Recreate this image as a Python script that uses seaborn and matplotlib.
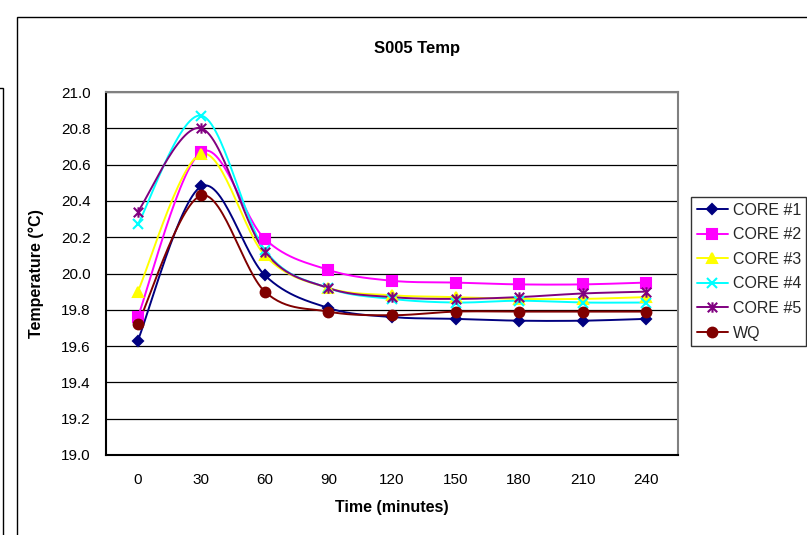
import numpy as np
import pandas as pd
import matplotlib
matplotlib.use("Agg")
import matplotlib.pyplot as plt
import seaborn as sns
from matplotlib.path import Path
from matplotlib.patches import Rectangle
from matplotlib.lines import Line2D

# Sampling times (minutes) and temperatures (°C)
time_labels = ["0", "30", "60", "90", "120", "150", "180", "210", "240"]
core1 = [19.63, 20.48, 19.99, 19.81, 19.76, 19.75, 19.74, 19.74, 19.75]
core2 = [19.76, 20.67, 20.19, 20.02, 19.96, 19.95, 19.94, 19.94, 19.95]
core3 = [19.90, 20.66, 20.10, 19.92, 19.88, 19.87, 19.86, 19.86, 19.87]
core4 = [20.27, 20.87, 20.13, 19.92, 19.86, 19.84, 19.85, 19.84, 19.84]
core5 = [20.34, 20.80, 20.12, 19.92, 19.87, 19.86, 19.87, 19.89, 19.90]
wq = [19.72, 20.43, 19.90, 19.79, 19.77, 19.79, 19.79, 19.79, 19.79]

series_names = ["CORE #1", "CORE #2", "CORE #3", "CORE #4", "CORE #5", "WQ"]
series_values = [core1, core2, core3, core4, core5, wq]
series_colors = ["#000080", "#FF00FF", "#FFFF00", "#00FFFF", "#800080", "#800000"]

# asterisk marker: an "x" crossed by a vertical bar
asterisk = Path(
    [(-1, -1), (1, 1), (-1, 1), (1, -1), (0, -1.1), (0, 1.1)],
    [Path.MOVETO, Path.LINETO, Path.MOVETO, Path.LINETO, Path.MOVETO, Path.LINETO],
)
series_markers = ["D", "s", "^", "x", asterisk, "o"]
marker_sizes = [5, 7, 7, 7, 7.5, 7]


def smooth(xs, ys, n=30):
    """Cubic Bezier smoothing through every point (Catmull-Rom tangents)."""
    pts = np.column_stack([xs, ys]).astype(float)
    out = []
    m = len(pts)
    for i in range(m - 1):
        p0 = pts[i - 1] if i > 0 else pts[i]
        p1 = pts[i]
        p2 = pts[i + 1]
        p3 = pts[i + 2] if i + 2 < m else pts[i + 1]
        c1 = p1 + (p2 - p0) / 6.0
        c2 = p2 - (p3 - p1) / 6.0
        t = np.linspace(0, 1, n, endpoint=(i == m - 2))[:, None]
        seg = ((1 - t) ** 3) * p1 + 3 * ((1 - t) ** 2) * t * c1 + 3 * (1 - t) * t ** 2 * c2 + t ** 3 * p2
        out.append(seg)
    out = np.vstack(out)
    return out[:, 0], out[:, 1]


sns.set_theme(style="white")
plt.rcParams["font.family"] = ["Liberation Sans", "DejaVu Sans"]

fig = plt.figure(figsize=(8.07, 5.35), dpi=100)
W, H = 807, 535
ax = fig.add_axes([106 / W, 1 - 455 / H, (678 - 106) / W, (455 - 92) / H])

x_pos = np.arange(len(time_labels))

curve_frames = []
for name, vals in zip(series_names, series_values):
    sx, sy = smooth(x_pos, vals)
    curve_frames.append(pd.DataFrame({"x": sx, "y": sy, "series": name}))
curves = pd.concat(curve_frames, ignore_index=True)

sns.lineplot(data=curves, x="x", y="y", hue="series", hue_order=series_names,
             palette=dict(zip(series_names, series_colors)), units="series",
             estimator=None, sort=False, linewidth=1.4, legend=False, ax=ax)

for name, vals, col, mk, ms in zip(series_names, series_values, series_colors,
                                   series_markers, marker_sizes):
    ax.plot(x_pos, vals, linestyle="none", marker=mk, markersize=ms,
            color=col, markeredgecolor=col, markeredgewidth=1.5, zorder=5)

# axes limits, ticks and grid
tick_font = 11
ax.set_xlim(-0.5, len(time_labels) - 0.5)
ax.set_ylim(19.0, 21.0)
yt = np.arange(19.0, 21.01, 0.2)
ax.set_yticks(yt)
ax.set_yticklabels([f"{v:.1f}" for v in yt], fontsize=tick_font)
ax.set_xticks(np.arange(-0.5, len(time_labels), 1.0))
ax.set_xticklabels([])
ax.set_xticks(x_pos, minor=True)
ax.set_xticklabels(time_labels, minor=True, fontsize=tick_font)
ax.tick_params(axis="x", which="minor", length=0, pad=13, colors="black")
ax.tick_params(axis="x", which="major", length=5, width=1, direction="out", colors="black")
ax.tick_params(axis="y", which="major", length=5, width=1, direction="out", pad=6, colors="black")
ax.yaxis.grid(True, color="black", linewidth=0.9)
ax.xaxis.grid(False)
ax.set_axisbelow(True)

for side in ["left", "bottom"]:
    ax.spines[side].set_color("black")
    ax.spines[side].set_linewidth(1.5)
for side in ["top", "right"]:
    ax.spines[side].set_color("#808080")
    ax.spines[side].set_linewidth(1.5)

ax.set_xlabel("Time (minutes)", fontsize=11.5, fontweight="bold", labelpad=9, color="black")
ax.set_ylabel("Temperature (°C)", fontsize=11.5, fontweight="bold", labelpad=12, color="black")
fig.text(417 / W, 1 - 48 / H, "S005 Temp", ha="center", va="center",
         fontsize=12, fontweight="bold", color="black")

# legend
handles = [Line2D([0], [0], color=c, marker=m, markersize=ms, linewidth=1.4,
                  markeredgecolor=c, markeredgewidth=1.5)
           for c, m, ms in zip(series_colors, series_markers, marker_sizes)]
leg = fig.legend(handles, series_names, loc="upper left",
                 bbox_to_anchor=(691 / W, 1 - 197 / H), fontsize=11.5,
                 frameon=True, fancybox=False, shadow=False, borderaxespad=0,
                 handlelength=1.95, handletextpad=0.3, labelspacing=0.6,
                 borderpad=0.35)
leg.get_frame().set_edgecolor("black")
leg.get_frame().set_linewidth(1.0)

# chart area frames
fig.patches.append(Rectangle((17 / W, -0.1), 1.0, 1 - 17 / H + 0.1, transform=fig.transFigure,
                             fill=False, edgecolor="black", linewidth=1.0))
fig.patches.append(Rectangle((-0.1, -0.1), 0.1 + 3 / W, 1 - 88 / H + 0.1, transform=fig.transFigure,
                             fill=False, edgecolor="black", linewidth=1.0))

fig.savefig("out.png", dpi=100)
